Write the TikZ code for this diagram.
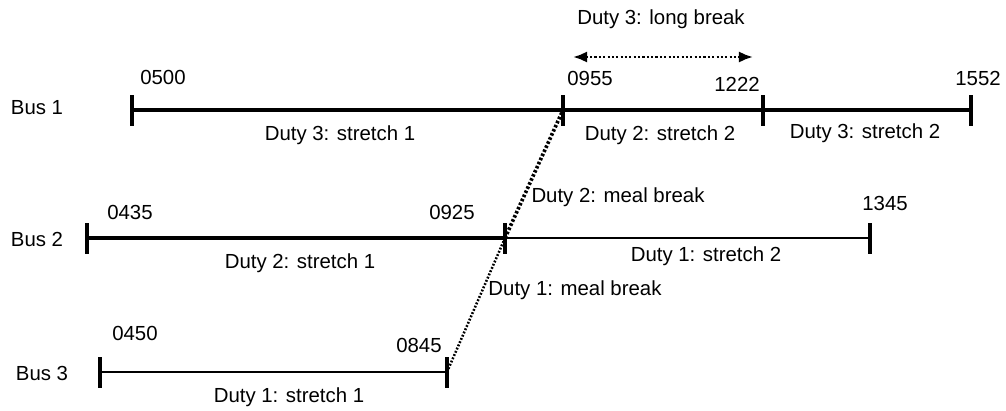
\documentclass[tikz,border=0pt]{standalone}
\usepackage{fontspec}
\setmainfont{Liberation Sans}
\usetikzlibrary{positioning,arrows.meta}

\begin{document}
\begin{tikzpicture}[%
        x=0.025cm, y=-0.025cm,
        >={Latex[length=10pt,width=8pt]},
        every node/.style={font=\fontsize{14.5}{17}\selectfont, inner sep=0pt},
        tick/.style={line width=3.2pt},
        dutythree/.style={line width=3.2pt},
        dutytwo/.style={line width=2.4pt},
        dutyone/.style={line width=1.6pt},
        mealtwo/.style={line width=2.6pt, dash pattern=on 1.8pt off 1.4pt},
        mealone/.style={line width=1.8pt, dash pattern=on 1.3pt off 1.2pt},
        longbreak/.style={<->, line width=1.9pt, dash pattern=on 1.5pt off 1.6pt}
      ]
      \useasboundingbox (0,0) rectangle (1006,410);

      % bus names
      \node (bus1) at (37,108) {Bus 1};
      \node (bus2) at (37,239) {Bus 2};
      \node (bus3) at (42,373) {Bus 3};

      % time points
      \coordinate (t0500) at (132,110);
      \coordinate (t0955) at (563,110);
      \coordinate (t1222) at (763,110);
      \coordinate (t1552) at (971,110);
      \coordinate (t0435) at (87,238);
      \coordinate (t0925) at (505,238);
      \coordinate (t1345) at (870,238);
      \coordinate (t0450) at (100,372);
      \coordinate (t0845) at (447,372);

      % stretches
      \draw[dutythree] (t0500) -- (t0955);
      \draw[dutytwo] (t0955) -- (t1222);
      \draw[dutythree] (t1222) -- (t1552);
      \draw[dutytwo] (t0435) -- (t0925);
      \draw[dutyone] (t0925) -- (t1345);
      \draw[dutyone] (t0450) -- (t0845);

      % ticks
      \foreach \t in {t0500,t0955,t1222,t1552,t0435,t0925,t1345,t0450,t0845}
        \draw[tick] (\t) ++(0,-15) -- ++(0,31);

      % times
      \node (l0500) at (163,77) {0500};
      \node (l0955) at (590,78) {0955};
      \node (l1222) at (737,84) {1222};
      \node (l1552) at (978,78) {1552};
      \node (l0435) at (130,212) {0435};
      \node (l0925) at (452,212) {0925};
      \node (l1345) at (885,203) {1345};
      \node (l0450) at (135,333) {0450};
      \node (l0845) at (419,345) {0845};

      % duty labels
      \node (d3s1) at (340,135) {Duty 3: stretch 1};
      \node (d2s2) at (660,135) {Duty 2: stretch 2};
      \node (d3s2) at (865,133) {Duty 3: stretch 2};
      \node (d2s1) at (300,263) {Duty 2: stretch 1};
      \node (d1s2) at (706,256) {Duty 1: stretch 2};
      \node (d1s1) at (289,397) {Duty 1: stretch 1};
      \node (d2mb) at (618,197) {Duty 2: meal break};
      \node (d1mb) at (575,290) {Duty 1: meal break};
      \node (d3lb) at (661,19) {Duty 3: long break};

      % breaks
      \coordinate (lbl) at (573,57);
      \coordinate (lbr) at (753,57);
      \draw[longbreak] (lbl) -- (lbr);
      \draw[mealtwo] (t0925) -- (t0955);
      \draw[mealone] (t0845) -- (t0925);
    \end{tikzpicture}
\end{document}
